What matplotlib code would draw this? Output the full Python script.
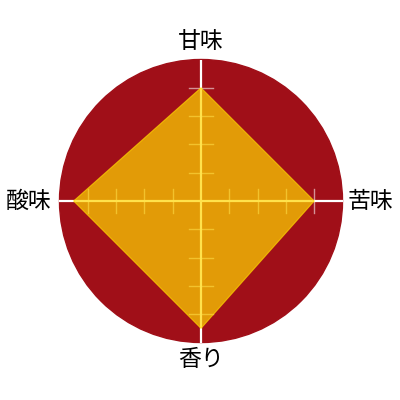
import numpy as np
import matplotlib
matplotlib.use("Agg")
import matplotlib.pyplot as plt

plt.rcParams['font.family'] = ['Noto Sans CJK JP', 'DejaVu Sans']

# radar data (clockwise from top)
labels = ['甘味', '苦味', '香り', '酸味']
values = [4, 4, 4.5, 4.5]
r_max = 5
tick_steps = [1, 2, 3, 4]
label_dist = [5.65, 5.97, 5.6, 6.08]

angles = np.deg2rad(np.arange(len(labels)) * 360 / len(labels))
ux, uy = np.sin(angles), np.cos(angles)

fig = plt.figure(figsize=(4, 4), dpi=100)
ax = fig.add_axes([0, 0, 1, 1])
s = 28.3  # px per unit
ax.set_xlim(-201 / s, 199 / s)
ax.set_ylim(-199 / s, 201 / s)
ax.axis('off')

# background disc
ax.add_patch(plt.Circle((0, 0), r_max, color='#a00f18', zorder=1))

# spokes and ticks
for dx, dy in zip(ux, uy):
    ax.plot([0, r_max * dx], [0, r_max * dy], color='white', lw=1.6,
            solid_capstyle='butt', zorder=2)
    for k in tick_steps:
        px, py = -dy * 0.42, dx * 0.42
        ax.plot([k * dx - px, k * dx + px], [k * dy - py, k * dy + py],
                color='white', alpha=0.55, lw=1, zorder=2)

# data polygon
ax.fill(np.array(values) * ux, np.array(values) * uy,
        color=(1, 0.843, 0), alpha=0.7, lw=0.8, zorder=3)

for lab, d, dx, dy in zip(labels, label_dist, ux, uy):
    ax.text(d * dx, d * dy, lab, fontsize=16.5, ha='center', va='center',
            color='black', zorder=4)

fig.savefig('out.png', dpi=100)
